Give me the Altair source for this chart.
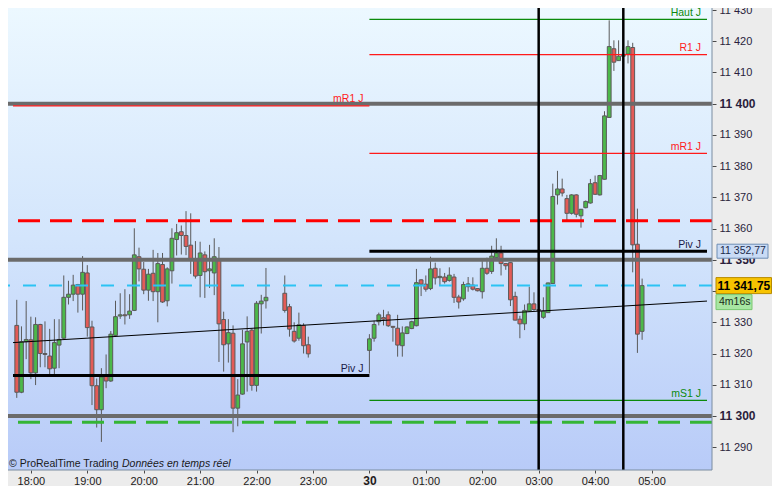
import altair as alt
import pandas as pd

# ---------------- NASDAQ 100 - 5 minute candles -----------------
# slot 0 = 29/09 17:45, one slot = 5 minutes; missing slots = no quotes
slots = [*range(0, 54), *range(57, 63), *range(75, 134)]

opens = [
    11329.0, 11307.6, 11323.8, 11324.4, 11313.8, 11329.3, 11320.0, 11319.2, 11315.3, 11322.7,
    11324.9, 11338.0, 11339.0, 11342.1, 11339.0, 11345.8, 11328.5, 11309.7, 11302.0, 11313.0,
    11311.2, 11325.8, 11332.0, 11332.4, 11332.4, 11333.8, 11351.0, 11347.0, 11340.3, 11345.7,
    11339.8, 11348.5, 11336.9, 11346.5, 11356.5, 11359.0, 11357.8, 11354.7, 11350.4, 11345.0,
    11351.6, 11346.5, 11345.8, 11350.4, 11330.9, 11323.1, 11326.5, 11302.5, 11307.0, 11323.7,
    11327.5, 11309.8, 11335.9, 11336.9,
    11339.3, 11335.0, 11327.1, 11324.9, 11329.0, 11322.8,
    11321.0, 11324.9, 11330.2, 11331.5, 11332.4, 11328.7, 11328.1, 11322.5, 11326.4, 11328.0,
    11328.9, 11343.6, 11342.2, 11340.8, 11347.3, 11344.3, 11344.5, 11343.4, 11344.5, 11338.1,
    11337.5, 11341.4, 11341.9, 11340.8, 11339.8, 11347.3, 11346.3, 11350.7, 11352.2, 11348.8,
    11349.1, 11338.3, 11331.0, 11329.5, 11333.6, 11335.9, 11334.1, 11331.6, 11333.1, 11342.4,
    11370.8, 11372.7, 11369.6, 11364.9, 11370.8, 11364.1, 11366.7, 11368.2, 11374.7, 11370.8,
    11375.8, 11395.6, 11417.6, 11413.8, 11415.2, 11415.9, 11418.0, 11355.0, 11327.1,
]
highs = [
    11337.2, 11328.7, 11336.8, 11331.8, 11331.6, 11329.5, 11330.3, 11327.9, 11331.0, 11331.0,
    11345.0, 11343.3, 11345.2, 11342.3, 11351.2, 11348.3, 11330.5, 11312.0, 11315.3, 11319.7,
    11327.2, 11336.9, 11339.3, 11340.6, 11339.0, 11360.1, 11353.9, 11349.3, 11347.1, 11353.2,
    11352.2, 11352.2, 11347.6, 11360.1, 11361.5, 11361.0, 11365.6, 11364.9, 11356.0, 11355.8,
    11352.7, 11354.8, 11356.9, 11354.1, 11333.4, 11331.0, 11329.0, 11311.8, 11327.6, 11331.9,
    11328.0, 11336.8, 11338.8, 11347.4,
    11345.0, 11335.9, 11330.0, 11333.1, 11329.7, 11325.4,
    11326.2, 11330.5, 11333.1, 11334.0, 11333.5, 11328.8, 11332.4, 11328.7, 11328.7, 11330.5,
    11347.1, 11343.8, 11345.0, 11351.0, 11349.1, 11347.3, 11345.8, 11347.6, 11345.5, 11338.8,
    11343.0, 11344.5, 11344.4, 11340.9, 11349.6, 11350.7, 11354.5, 11356.9, 11354.5, 11349.0,
    11349.2, 11339.8, 11332.1, 11335.7, 11341.4, 11339.6, 11336.0, 11338.0, 11342.7, 11374.4,
    11378.5, 11376.0, 11370.8, 11371.0, 11371.0, 11366.3, 11369.0, 11375.9, 11377.0, 11377.2,
    11397.6, 11426.7, 11420.3, 11420.3, 11417.0, 11420.3, 11419.5, 11366.4, 11344.0,
]
lows = [
    11305.8, 11307.3, 11318.2, 11311.8, 11309.9, 11315.6, 11315.6, 11313.0, 11313.2, 11315.3,
    11324.4, 11335.7, 11336.8, 11333.1, 11333.8, 11325.4, 11303.5, 11296.3, 11291.7, 11308.9,
    11310.9, 11325.4, 11331.1, 11329.3, 11331.1, 11333.6, 11343.1, 11339.0, 11336.9, 11336.8,
    11330.0, 11336.2, 11335.1, 11342.4, 11351.4, 11351.7, 11351.5, 11345.5, 11344.0, 11338.0,
    11337.8, 11341.0, 11338.7, 11317.3, 11314.2, 11317.1, 11294.8, 11296.7, 11306.8, 11307.8,
    11308.1, 11307.8, 11326.4, 11334.4,
    11333.1, 11325.4, 11323.5, 11324.1, 11320.0, 11318.7,
    11313.6, 11323.8, 11329.0, 11329.0, 11328.5, 11323.8, 11319.0, 11319.0, 11326.2, 11327.8,
    11328.7, 11338.4, 11339.8, 11340.3, 11342.1, 11341.9, 11342.4, 11343.0, 11336.2, 11334.4,
    11336.9, 11339.8, 11340.2, 11339.9, 11337.6, 11345.2, 11345.5, 11350.6, 11345.0, 11346.8,
    11335.2, 11330.6, 11324.9, 11327.5, 11333.4, 11333.7, 11333.0, 11331.1, 11333.0, 11342.3,
    11367.7, 11370.3, 11362.5, 11364.5, 11363.6, 11360.3, 11366.5, 11368.0, 11370.8, 11370.6,
    11375.7, 11395.5, 11410.5, 11413.7, 11414.0, 11412.9, 11346.0, 11320.2, 11324.4,
]
closes = [
    11307.6, 11323.8, 11324.5, 11313.8, 11329.3, 11320.0, 11319.7, 11315.1, 11323.5, 11324.5,
    11338.0, 11339.0, 11341.9, 11339.0, 11346.0, 11328.3, 11309.7, 11302.0, 11312.5, 11311.2,
    11326.2, 11331.8, 11332.4, 11332.1, 11333.6, 11351.6, 11347.1, 11340.3, 11345.4, 11339.8,
    11348.8, 11336.5, 11347.1, 11356.9, 11358.7, 11357.8, 11354.3, 11350.4, 11344.8, 11352.2,
    11346.2, 11347.1, 11351.0, 11329.5, 11322.8, 11326.7, 11302.5, 11306.7, 11323.1, 11327.1,
    11309.8, 11336.1, 11336.8, 11338.0,
    11333.8, 11327.8, 11324.0, 11329.2, 11322.5, 11319.9,
    11324.7, 11329.3, 11332.4, 11331.0, 11328.9, 11328.4, 11322.7, 11326.6, 11328.5, 11330.2,
    11342.7, 11342.2, 11340.6, 11347.1, 11344.2, 11344.7, 11343.0, 11345.1, 11338.0, 11336.5,
    11342.1, 11342.3, 11340.6, 11340.1, 11347.3, 11345.7, 11351.2, 11352.2, 11348.8, 11348.1,
    11337.2, 11330.7, 11329.5, 11333.8, 11335.9, 11334.1, 11333.8, 11333.6, 11342.6, 11370.3,
    11372.7, 11371.4, 11364.9, 11370.8, 11364.6, 11366.2, 11368.7, 11374.4, 11371.0, 11377.0,
    11396.1, 11418.3, 11413.3, 11415.2, 11415.8, 11418.3, 11354.8, 11326.2, 11341.75,
]

# ---------------- levels ----------------
round_levels = [11400, 11350, 11300]
red_dashed_level = 11362.5
green_dashed_level = 11298.0
last_price = 11341.75
prev_names = ["mR1 J", "Piv J"]
prev_prices = [11399.3, 11313.0]
prev_colors = ["#ff1a1a", "#1a1a48"]
cur_names = ["Haut J", "R1 J", "mR1 J", "Piv J", "mS1 J"]
cur_prices = [11427.0, 11415.7, 11384.1, 11352.77, 11305.0]
cur_colors = ["#0b8a0b", "#ff1a1a", "#ff1a1a", "#1a1a48", "#0b8a0b"]
trend_prices = [11323.5, 11336.8]
marker_times = ["2020-09-30 03:00", "2020-09-30 04:30"]
y_ticks = list(range(11290, 11431, 10))

t_start = pd.Timestamp("2020-09-29 17:41")
t_mid = pd.Timestamp("2020-09-30 00:00")
t_end = pd.Timestamp("2020-09-30 05:59")
first_slot = pd.Timestamp("2020-09-29 17:45")

W, H = 704, 462
F = "Liberation Sans"
RED, GREEN, EDGE = "#e35b57", "#4cb94a", "#5a5a5a"

candles = pd.DataFrame({
    "t": [first_slot + pd.Timedelta(minutes=5 * s) for s in slots],
    "o": opens, "h": highs, "l": lows, "c": closes,
})

def dt(d, h, m=0):
    return alt.DateTime(year=2020, month=9, date=d, hours=h, minutes=m)

xs = alt.Scale(domain=[dt(29, 17, 41), dt(30, 5, 59)])
ys = alt.Scale(domain=[11282.7, 11430.65], nice=False, zero=False)

hour_ticks = [dt(29, h) for h in range(18, 24)] + [dt(30, h) for h in range(0, 6)]
xaxis = alt.Axis(
    values=hour_ticks, title=None, grid=False, domain=False,
    labelExpr="hours(datum.value) == 0 ? timeFormat(datum.value, '%d') : timeFormat(datum.value, '%H:%M')",
    labelFont=F,
    labelFontSize={"condition": {"test": "hours(datum.value) == 0", "value": 12}, "value": 11},
    labelFontWeight={"condition": {"test": "hours(datum.value) == 0", "value": "bold"}, "value": "normal"},
    labelColor="#231a1a", tickColor="#4a4a4a", tickSize=3, labelPadding=2,
    labelFlush=False, labelOverlap=False, labelAngle=0,
)
bold_test = "datum.value == 11400 || datum.value == 11300 || datum.value == 11350"
yaxis = alt.Axis(
    orient="right", values=y_ticks, title=None, grid=False, domain=False,
    labelExpr="datum.value == 11340 ? '' : replace(format(datum.value, ','), ',', ' ')",
    labelFont=F,
    labelFontSize={"condition": {"test": bold_test, "value": 12}, "value": 11},
    labelFontWeight={"condition": {"test": bold_test, "value": "bold"}, "value": "normal"},
    labelColor="#2a1e3c", tickColor="#4a4a4a", tickSize=4, labelPadding=3,
    labelFlush=False, labelOverlap=False,
)

def X(f):
    return alt.X(f, type="temporal", scale=xs, axis=xaxis, title=None)

def Y(f):
    return alt.Y(f, type="quantitative", scale=ys, axis=yaxis, title=None)

dummy = pd.DataFrame({"k": [0]})

bg = alt.Chart(dummy).mark_rect(
    color=alt.Gradient(
        gradient="linear",
        stops=[alt.GradientStop(color="#ecf8ff", offset=0),
               alt.GradientStop(color="#d3e5fc", offset=0.5),
               alt.GradientStop(color="#b8cbf8", offset=1)],
        x1=0, x2=0, y1=0, y2=1,
    )
).encode(x=alt.value(0), x2=alt.value(W), y=alt.value(0), y2=alt.value(H))

wicks = alt.Chart(candles).mark_rule(color=EDGE, strokeWidth=1).encode(
    x=X("t"), y=Y("l"), y2="h",
)
bodies = alt.Chart(candles).mark_bar(size=3.8, stroke=EDGE, strokeWidth=1).encode(
    x=X("t"), y=Y("o"), y2="c",
    fill=alt.condition("datum.c >= datum.o", alt.value(GREEN), alt.value(RED)),
)

def hline(values, **style):
    return alt.Chart(pd.DataFrame({"p": values})).mark_rule(**style).encode(y=Y("p"))

gray = hline(round_levels, color="#6b6b6b", strokeWidth=4)
red_d = hline([red_dashed_level], color="#ff0000", strokeWidth=3, strokeDash=[22, 10])
green_d = hline([green_dashed_level], color="#35b535", strokeWidth=3, strokeDash=[22, 10])
cyan_d = hline([last_price], color="#2cc3f4", strokeWidth=2, strokeDash=[13, 13])

segs = pd.DataFrame({
    "t1": [t_start] * len(prev_names) + [t_mid] * len(cur_names),
    "t2": [t_mid] * len(prev_names) + [t_end] * len(cur_names),
    "p": prev_prices + cur_prices,
    "name": prev_names + cur_names,
    "col": prev_colors + cur_colors,
})
thin_segs = segs[segs["name"] != "Piv J"]
piv_segs = segs[segs["name"] == "Piv J"]
thin = alt.Chart(thin_segs).mark_rule(strokeWidth=1.2).encode(
    x=X("t1"), x2="t2", y=Y("p"), color=alt.Color("col:N", scale=None))
piv = alt.Chart(piv_segs).mark_rule(color="#000000", strokeWidth=3).encode(
    x=X("t1"), x2="t2", y=Y("p"))

trend = alt.Chart(pd.DataFrame({"t1": [t_start], "t2": [t_end],
                                "p1": [trend_prices[0]], "p2": [trend_prices[1]]})
                  ).mark_rule(color="#000000", strokeWidth=1).encode(
    x=X("t1"), x2="t2", y=Y("p1"), y2="p2")

vlines = alt.Chart(pd.DataFrame({"t": pd.to_datetime(marker_times)})).mark_rule(
    color="#000000", strokeWidth=2.5).encode(x=X("t"))

labels = alt.Chart(segs).mark_text(
    align="right", baseline="alphabetic", dx=-6, dy=-3.5, font=F, fontSize=10.5
).encode(x=X("t2"), y=Y("p"), text="name:N", color=alt.Color("col:N", scale=None))

borders = alt.layer(
    alt.Chart(dummy).mark_rule(color="#7b8ca0", strokeWidth=1).encode(
        x=alt.value(W), y=alt.value(0), y2=alt.value(H)),
    alt.Chart(dummy).mark_rule(color="#7b8ca0", strokeWidth=1).encode(
        x=alt.value(0), x2=alt.value(W), y=alt.value(H)),
)

piv_df = pd.DataFrame({"p": [cur_prices[3]], "label": ["11 352,77"]})
last_df = pd.DataFrame({"p": [last_price], "label": ["11 341,75"], "timer": ["4m16s"]})

blue_box = alt.Chart(piv_df).mark_rect(
    fill="#c9dbf5", stroke="#6d8db4", strokeWidth=1, yOffset=-7, y2Offset=7
).encode(x=alt.value(709), x2=alt.value(760), y=Y("p"), y2="p")
blue_txt = alt.Chart(piv_df).mark_text(
    align="left", baseline="middle", font=F, fontSize=10.5, color="#1b2a4a"
).encode(x=alt.value(712), y=Y("p"), text="label:N")

gold_box = alt.Chart(last_df).mark_rect(
    fill="#f8c300", stroke="#b98c00", strokeWidth=1, yOffset=-8, y2Offset=8
).encode(x=alt.value(708), x2=alt.value(763.5), y=Y("p"), y2="p")
gold_txt = alt.Chart(last_df).mark_text(
    align="left", baseline="middle", font=F, fontSize=12, fontWeight="bold", color="#000000"
).encode(x=alt.value(709.5), y=Y("p"), text="label:N")

green_box = alt.Chart(last_df).mark_rect(
    fill="#a8e6a2", stroke="#78c870", strokeWidth=1, yOffset=9, y2Offset=24
).encode(x=alt.value(708), x2=alt.value(744), y=Y("p"), y2="p")
green_txt = alt.Chart(last_df).mark_text(
    align="left", baseline="middle", font=F, fontSize=10.5, color="#1a2a1a", dy=16.5
).encode(x=alt.value(711), y=Y("p"), text="timer:N")

copy1 = alt.Chart(dummy).mark_text(
    text="© ProRealTime Trading", align="left", baseline="alphabetic",
    font=F, fontSize=10.5, color="#1a1a1a"
).encode(x=alt.value(1), y=alt.value(H - 3))
copy2 = alt.Chart(dummy).mark_text(
    text="Données en temps réel", align="left", baseline="alphabetic",
    font=F, fontSize=10.5, fontStyle="italic", color="#1a1a1a"
).encode(x=alt.value(114), y=alt.value(H - 3))

chart = alt.layer(
    bg, wicks, bodies, gray, red_d, green_d, cyan_d, thin, piv, trend, vlines,
    labels, borders, blue_box, blue_txt, gold_box, gold_txt, green_box, green_txt,
    copy1, copy2,
).properties(
    width=W, height=H,
    padding={"left": 0, "top": 0, "right": 60, "bottom": 16},
    autosize=alt.AutoSizeParams(type="none"),
    background="#ececec",
).configure_view(stroke=None)

chart.save("out.html", embed_options={"renderer": "svg", "actions": False})
